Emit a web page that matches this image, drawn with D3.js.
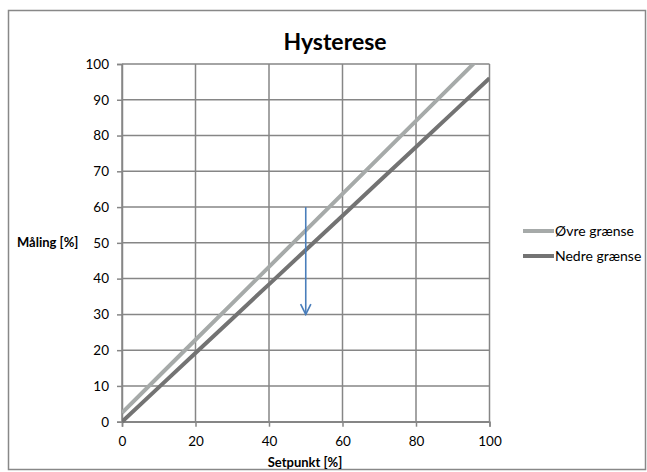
<!DOCTYPE html>
<html>
<head>
<meta charset="utf-8">
<script src="https://cdn.jsdelivr.net/npm/d3@7"></script>
<style>
  body { margin: 0; background: #fff; }
  svg { font-family: Lato, "Open Sans", sans-serif; }
</style>
</head>
<body>
<svg id="chart" width="647" height="472"></svg>
<script>
// data
const setpoints = [0, 10, 20, 30, 40, 50, 60, 70, 80, 90, 100];
const ovreGrense = [2.5, 12.7, 22.9, 33.1, 43.3, 53.5, 63.7, 73.9, 84.1, 94.3, 104.5];
const nedreGrense = [0, 9.6, 19.2, 28.8, 38.4, 48, 57.6, 67.2, 76.8, 86.4, 96];
const seriesNames = ["Øvre grænse", "Nedre grænse"];
const xTicks = [0, 20, 40, 60, 80, 100];
const yTicks = [0, 10, 20, 30, 40, 50, 60, 70, 80, 90, 100];
const arrow = {x: 50, from: 60, to: 30};

const margin = {top: 64, left: 122, right: 157, bottom: 50};
const width = 489.5 - margin.left,
      height = 421.7 - margin.top;

const svg = d3.select("#chart");

// outer chart frame
svg.append("rect")
    .attr("x", 8.5).attr("y", 10.5)
    .attr("width", 637).attr("height", 459)
    .attr("fill", "#fff")
    .attr("stroke", "#888").attr("stroke-width", 1.5);

svg.append("text")
    .attr("x", 335).attr("y", 50)
    .attr("text-anchor", "middle")
    .attr("font-size", 23).attr("font-weight", "bold")
    .text("Hysterese");

const g = svg.append("g").attr("transform", `translate(${margin.left},${margin.top})`);

const x = d3.scaleLinear().domain([0, 100]).range([0, width]);
const y = d3.scaleLinear().domain([0, 100]).range([height, 0]);

const gridColor = "#868686";

// gridlines
g.selectAll(".hgrid").data(yTicks).enter().append("line")
    .attr("x1", 0).attr("x2", width)
    .attr("y1", d => y(d)).attr("y2", d => y(d))
    .attr("stroke", gridColor).attr("stroke-width", 1.5);
g.selectAll(".vgrid").data(xTicks).enter().append("line")
    .attr("x1", d => x(d)).attr("x2", d => x(d))
    .attr("y1", 0).attr("y2", height)
    .attr("stroke", gridColor).attr("stroke-width", 1.5);

// axes
const xAxis = g.append("g").attr("transform", `translate(0,${height})`)
    .call(d3.axisBottom(x).tickValues(xTicks).tickSize(5).tickPadding(7));
const yAxis = g.append("g")
    .call(d3.axisLeft(y).tickValues(yTicks).tickSize(5).tickPadding(8));
[xAxis, yAxis].forEach(a => {
    a.select(".domain").attr("stroke", gridColor).attr("stroke-width", 1.5);
    a.selectAll(".tick line").attr("stroke", gridColor).attr("stroke-width", 1.5);
    a.selectAll("text").attr("font-size", 13.5).attr("fill", "#000")
        .style("font-family", "Lato, sans-serif");
});
xAxis.selectAll("text").attr("dy", "0.9em");

// clip series to plot area
svg.append("clipPath").attr("id", "plotClip")
    .append("rect").attr("x", 0).attr("y", 0).attr("width", width).attr("height", height + 3);

const line = d3.line().x(d => x(d[0])).y(d => y(d[1]));
const series = [
    {name: seriesNames[0], values: ovreGrense, color: "#a6aaa9"},
    {name: seriesNames[1], values: nedreGrense, color: "#737373"}
];

g.append("g").attr("clip-path", "url(#plotClip)")
    .selectAll("path").data(series).enter().append("path")
    .attr("d", s => line(setpoints.map((sp, i) => [sp, s.values[i]])))
    .attr("fill", "none")
    .attr("stroke", s => s.color)
    .attr("stroke-width", 4);

// blue arrow
const defs = svg.append("defs");
defs.append("marker").attr("id", "arrowHead")
    .attr("viewBox", "0 0 10 10").attr("refX", 9).attr("refY", 5)
    .attr("markerWidth", 8).attr("markerHeight", 8)
    .attr("orient", "auto")
    .append("path").attr("d", "M1,1 L9,5 L1,9")
    .attr("fill", "none").attr("stroke", "#4a7ebb").attr("stroke-width", 1.3);

g.append("line")
    .attr("x1", x(arrow.x)).attr("x2", x(arrow.x))
    .attr("y1", y(arrow.from)).attr("y2", y(arrow.to))
    .attr("stroke", "#4a7ebb").attr("stroke-width", 1.6)
    .attr("marker-end", "url(#arrowHead)");

// axis titles
svg.append("text")
    .attr("x", 305).attr("y", 467)
    .attr("text-anchor", "middle")
    .attr("font-size", 13).attr("font-weight", "bold")
    .text("Setpunkt [%]");

svg.append("text")
    .attr("x", 17).attr("y", 247)
    .attr("font-size", 13).attr("font-weight", "bold")
    .text("Måling [%]");

// legend
const legend = svg.append("g").attr("transform", "translate(523,231)");
legend.selectAll("line").data(series).enter().append("line")
    .attr("x1", 0).attr("x2", 31)
    .attr("y1", (d, i) => i * 25).attr("y2", (d, i) => i * 25)
    .attr("stroke", d => d.color).attr("stroke-width", 4);
legend.selectAll("text").data(series).enter().append("text")
    .attr("x", 32)
    .attr("y", (d, i) => i * 25 + 5)
    .attr("font-size", 14)
    .text(d => d.name);
</script>
</body>
</html>
